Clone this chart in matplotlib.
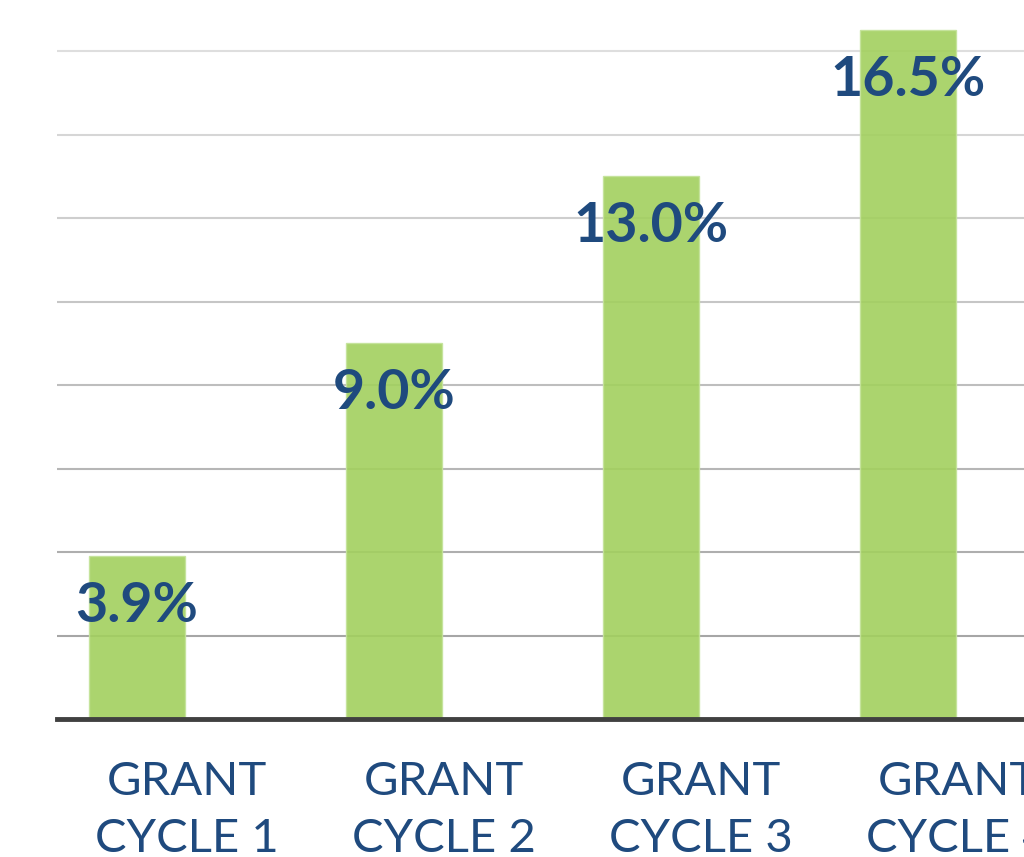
import matplotlib.pyplot as plt
import numpy as np

# data
categories = ['GRANT\nCYCLE 1', 'GRANT\nCYCLE 2', 'GRANT\nCYCLE 3', 'GRANT\nCYCLE 4']
values = [3.9, 9.0, 13.0, 16.5]
value_labels = ['3.9%', '9.0%', '13.0%', '16.5%']
grid_levels = [2, 4, 6, 8, 10, 12, 14, 16]
grid_colors = ['#a6a6a6', '#aeaeae', '#b6b6b6', '#bebebe', '#c6c6c6', '#cecece', '#d6d6d6', '#dedede']

txt_color = '#1f4a7e'
bar_color = '#a2d05e'

fig = plt.figure(figsize=(10.24, 8.57), dpi=100)
ax = fig.add_axes([57 / 1024, 1 - 719 / 857, 1 - 57 / 1024, 719 / 857])

x = np.arange(len(categories))

# gridlines get lighter towards the top
for lvl, c in zip(grid_levels, grid_colors):
    ax.axhline(lvl, color=c, linewidth=1.5, zorder=1)

ax.bar(x - 0.195, values, width=0.373, color=bar_color, alpha=0.9,
       edgecolor='#c4e39a', linewidth=1, zorder=2)

for xi, v, lab in zip(x, values, value_labels):
    ax.text(xi - 0.195, v - 1.2, lab, ha='center', va='center',
            fontsize=40, fontweight='bold', family='Lato', color=txt_color, zorder=3)

ax.axhline(0, color='#404040', linewidth=3.5, zorder=4, clip_on=False)

ax.set_xlim(-0.506, 3.257)
ax.set_ylim(0, 719 / 41.75)

ax.set_xticks(x)
ax.set_xticklabels(categories, fontsize=34, family='Lato', color=txt_color,
                   linespacing=1.45)
ax.tick_params(axis='x', length=0, pad=30)
ax.set_yticks([])

for s in ax.spines.values():
    s.set_visible(False)

plt.savefig('out.png', dpi=100)
